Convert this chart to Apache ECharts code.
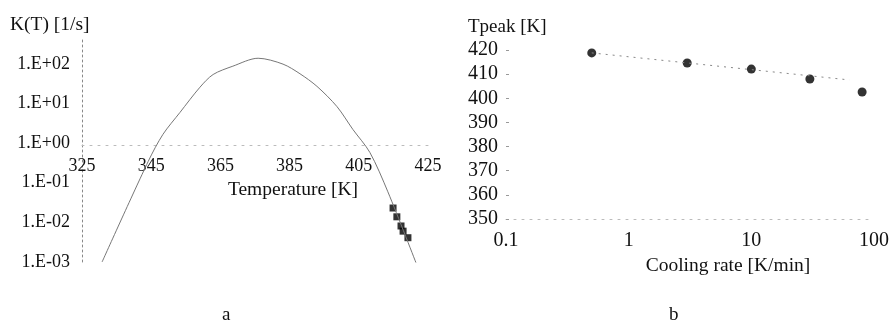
<!DOCTYPE html>
<html><head><meta charset="utf-8">
<script src="https://cdn.jsdelivr.net/npm/echarts@6/dist/echarts.min.js"></script>
<style>html,body{margin:0;padding:0;background:#fff}#c{width:892px;height:324px}</style>
</head><body><div id="c"></div>
<script>
// Panel a: rate constant curve K(T)
const curveT = [330.8, 344.1, 348.4, 353.3, 359.1, 362.9, 368.6, 375.9, 383.1, 388.0, 392.9, 398.7, 403.3, 408.2, 413.4, 421.8];
const curveK = [0.001, 0.34, 1.66, 5.9, 25.7, 53.7, 87, 138, 98, 56, 27, 8.3, 2.2, 0.58, 0.059, 0.00083];
const markT = [414.9, 416.0, 417.2, 417.8, 419.2];
const markK = [0.023, 0.0138, 0.0081, 0.006, 0.0041];
const tempTicks = [325, 345, 365, 385, 405, 425];
const kTicks = [0.001, 0.01, 0.1, 1, 10, 100];
// Panel b: peak temperature vs cooling rate
const rates = [0.5, 3, 10, 30, 80];
const tpeak = [418.8, 414.6, 412.1, 408.0, 402.6];
const trendRate = [0.5, 63];
const trendT = [418.8, 407.6];
const rateTicks = [0.1, 1, 10, 100];

const FONT = 'Liberation Serif';
const txt = (s) => ({fontFamily: FONT, fontSize: s, color: '#111'});
function kFmt(v) {
  const e = Math.round(Math.log10(v));
  if (Math.abs(Math.log10(v) - e) > 1e-6) return '';
  return '1.E' + (e >= 0 ? '+' : '-') + String(Math.abs(e)).padStart(2, '0');
}
const zip = (a, b) => a.map((x, i) => [x, b[i]]);

const chart = echarts.init(document.getElementById('c'), null, {renderer: 'canvas'});
chart.setOption({
  animation: false,
  backgroundColor: '#fff',
  grid: [
    {left: 82, top: 40, width: 346, height: 222},
    {left: 506, top: 50, width: 375, height: 169}
  ],
  xAxis: [
    {gridIndex: 0, type: 'value', min: 325, max: 425, position: 'bottom', offset: -117,
     axisLine: {show: true, lineStyle: {color: '#bbb', type: [2, 6], width: 1}},
     axisTick: {show: false},
     splitLine: {show: false},
     axisLabel: Object.assign({customValues: tempTicks, margin: 12}, txt(18)),
     name: 'Temperature [K]', nameLocation: 'middle', nameGap: 31,
     nameTextStyle: Object.assign({padding: [0, 0, 0, 76]}, txt(19.5))},
    {gridIndex: 1, type: 'log', logBase: 10, min: 0.1, max: 100,
     axisLine: {show: true, lineStyle: {color: '#bbb', type: [2, 6], width: 1}},
     axisTick: {show: false},
     splitLine: {show: false},
     axisLabel: Object.assign({customValues: rateTicks, margin: 12, formatter: v => String(v)}, txt(20)),
     name: 'Cooling rate [K/min]', nameLocation: 'middle', nameGap: 31,
     nameTextStyle: Object.assign({padding: [0, 0, 0, 76]}, txt(19.5))}
  ],
  yAxis: [
    {gridIndex: 0, type: 'log', logBase: 10, min: 0.001, max: 398,
     axisLine: {show: true, lineStyle: {color: '#888', type: [2, 3], width: 1}},
     axisTick: {show: false},
     splitLine: {show: false},
     axisLabel: Object.assign({customValues: kTicks, margin: 12, formatter: kFmt}, txt(18))},
    {gridIndex: 1, type: 'value', min: 350, max: 420, interval: 10,
     axisLine: {show: false},
     axisTick: {show: true, inside: true, length: 3, lineStyle: {color: '#999'}},
     splitLine: {show: false},
     axisLabel: Object.assign({margin: 8}, txt(20))}
  ],
  graphic: [
    {type: 'text', left: 10, top: 15, style: {text: 'K(T) [1/s]', font: '19.5px "Liberation Serif"', fill: '#111'}},
    {type: 'text', left: 468, top: 18, style: {text: 'Tpeak [K]', font: '19px "Liberation Serif"', fill: '#111'}},
    {type: 'text', left: 222, top: 306, style: {text: 'a', font: '19px "Liberation Serif"', fill: '#111'}},
    {type: 'text', left: 669, top: 306, style: {text: 'b', font: '19px "Liberation Serif"', fill: '#111'}}
  ],
  series: [
    {type: 'line', xAxisIndex: 0, yAxisIndex: 0, data: zip(curveT, curveK), smooth: 0.3,
     showSymbol: false, lineStyle: {color: '#777', width: 1}},
    {type: 'scatter', xAxisIndex: 0, yAxisIndex: 0, data: zip(markT, markK), symbol: 'rect',
     symbolSize: 7, itemStyle: {color: '#000'}},
    {type: 'line', xAxisIndex: 1, yAxisIndex: 1, data: zip(trendRate, trendT), showSymbol: false,
     lineStyle: {color: '#888', width: 1, type: [2, 5]}},
    {type: 'scatter', xAxisIndex: 1, yAxisIndex: 1, data: zip(rates, tpeak), symbol: 'circle',
     symbolSize: 9, itemStyle: {color: '#000'}}
  ]
});
</script></body></html>
